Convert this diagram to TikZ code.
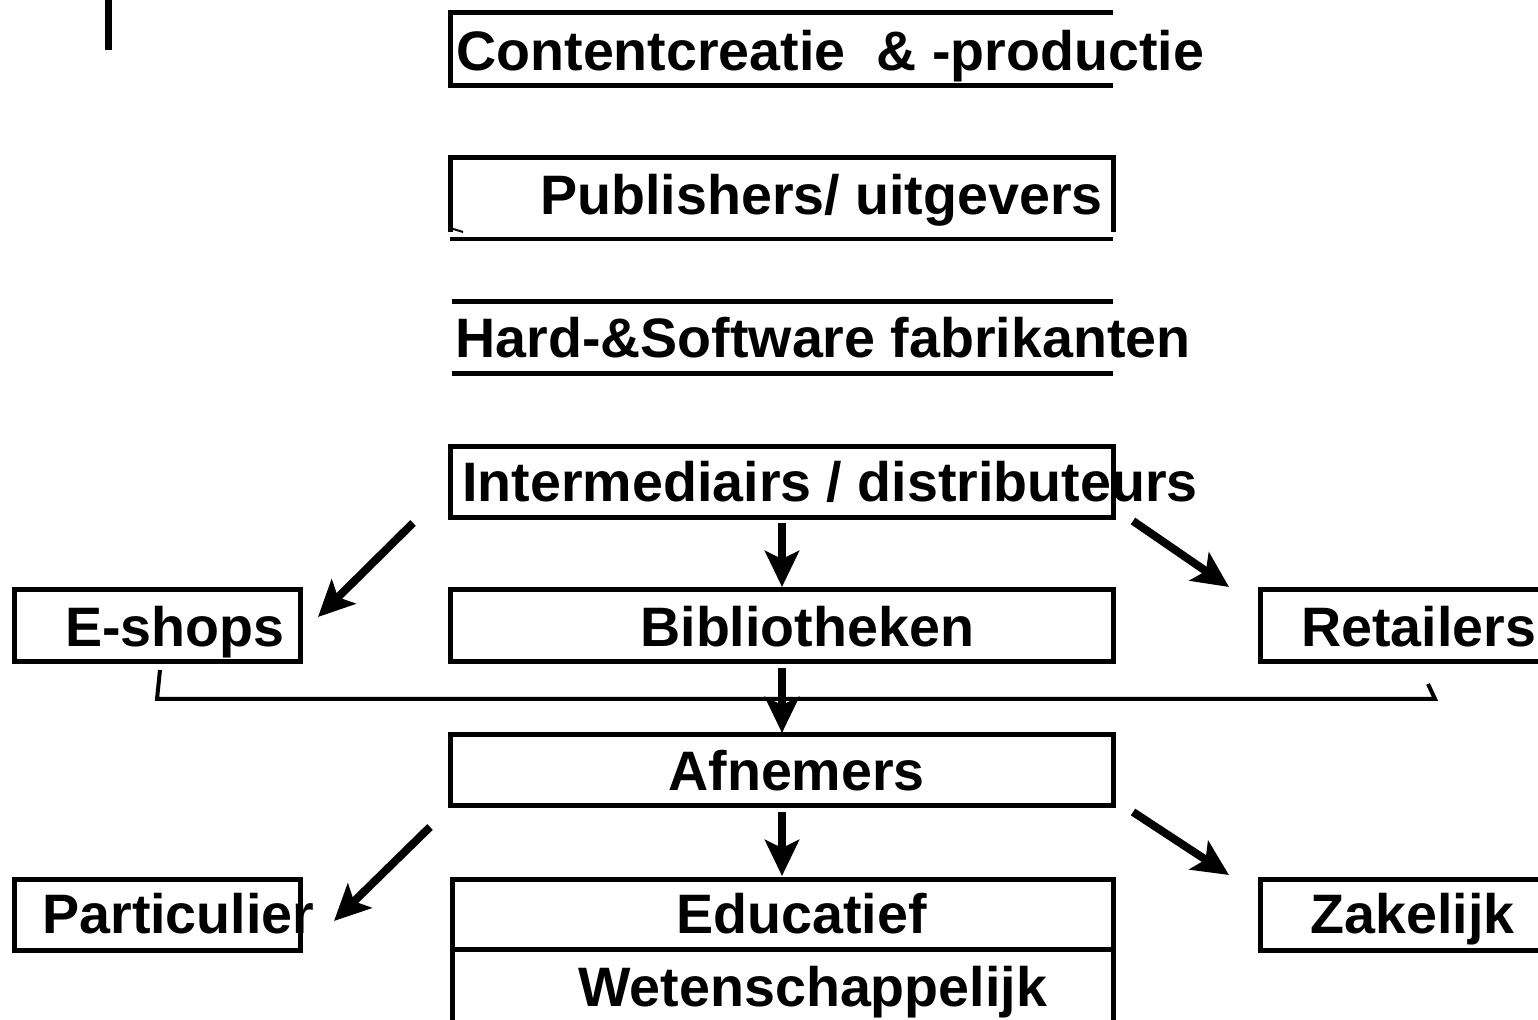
\documentclass[tikz,border=0pt]{standalone}
\usepackage{fontspec}
\setmainfont{Liberation Sans}
\usetikzlibrary{arrows.meta}
\begin{document}
\begin{tikzpicture}[x=0.5pt,y=-0.5pt,
  boxline/.style={line width=2.5pt},
  thinline/.style={line width=1.6pt},
  bracketline/.style={line width=2pt},
  bigarrow/.style={line width=4pt,-{Stealth[length=18pt,width=17pt,inset=4pt]}},
  lbl/.style={inner sep=0pt,anchor=base west,font=\fontsize{27.8pt}{30pt}\selectfont\bfseries}]
\useasboundingbox (0,0) rectangle (1538,1020);
\clip (0,0) rectangle (1538,1020);

% small bar top left
\fill (105,0) rectangle (112,50);

% box outlines
\draw[boxline] (1113,13) -- (450,13) -- (450,86) -- (1113,86);
\draw[boxline] (450,232) -- (450,158) -- (1113,158) -- (1113,232);
\draw[thinline] (450,239) -- (1113,239);
\draw[line width=1pt] (450,228) -- (463,232);
\draw[boxline] (452,302) -- (1113,302);
\draw[boxline] (452,374) -- (1113,374);
\draw[boxline] (450,447) rectangle (1113,518);
\draw[boxline] (14,590) rectangle (300,662);
\draw[boxline] (450,590) rectangle (1113,662);
\draw[boxline] (1260,590) rectangle (1548,662);
\draw[boxline] (450,735) rectangle (1113,806);
\draw[boxline] (14,880) rectangle (300,951);
\draw[boxline] (452,880) rectangle (1113,950);
\draw[boxline] (452,950) rectangle (1113,1030);
\draw[boxline] (1260,880) rectangle (1548,951);

% bracket
\draw[bracketline] (160,670) -- (157,699) -- (1435,699) -- (1428,684);

% texts
\node[lbl] (content) at (456,71) {Contentcreatie\ \ \& -productie};
\node[lbl] (publishers) at (540,215) {Publishers/ uitgevers};
\node[lbl] (hardsoft) at (455,358) {Hard-\&Software fabrikanten};
\node[lbl] (interm) at (462,502) {Intermediairs / distributeurs};
\node[lbl] (eshops) at (65,647) {E-shops};
\node[lbl] (biblio) at (640,647) {Bibliotheken};
\node[lbl] (retail) at (1301,647) {Retailers};
\node[lbl] (afnemers) at (668,791) {Afnemers};
\node[lbl] (partic) at (42,934) {Particulier};
\node[lbl] (educ) at (676,934) {Educatief};
\node[lbl] (zakelijk) at (1310,934) {Zakelijk};
\node[lbl] (wetensch) at (578,1007) {Wetenschappelijk};

% arrow end points
\coordinate (a1s) at (413,523);  \coordinate (a1e) at (318,617);
\coordinate (a2s) at (782,523);  \coordinate (a2e) at (782,587);
\coordinate (a3s) at (1133,521); \coordinate (a3e) at (1229,587);
\coordinate (a4s) at (782,668);  \coordinate (a4e) at (782,733);
\coordinate (a5s) at (430,827);  \coordinate (a5e) at (334,921);
\coordinate (a6s) at (782,812);  \coordinate (a6e) at (782,876);
\coordinate (a7s) at (1133,812); \coordinate (a7e) at (1229,875);

\draw[bigarrow] (a1s) -- (a1e);
\draw[bigarrow] (a2s) -- (a2e);
\draw[bigarrow] (a3s) -- (a3e);
\draw[bigarrow] (a4s) -- (a4e);
\draw[bigarrow] (a5s) -- (a5e);
\draw[bigarrow] (a6s) -- (a6e);
\draw[bigarrow] (a7s) -- (a7e);
\end{tikzpicture}
\end{document}
